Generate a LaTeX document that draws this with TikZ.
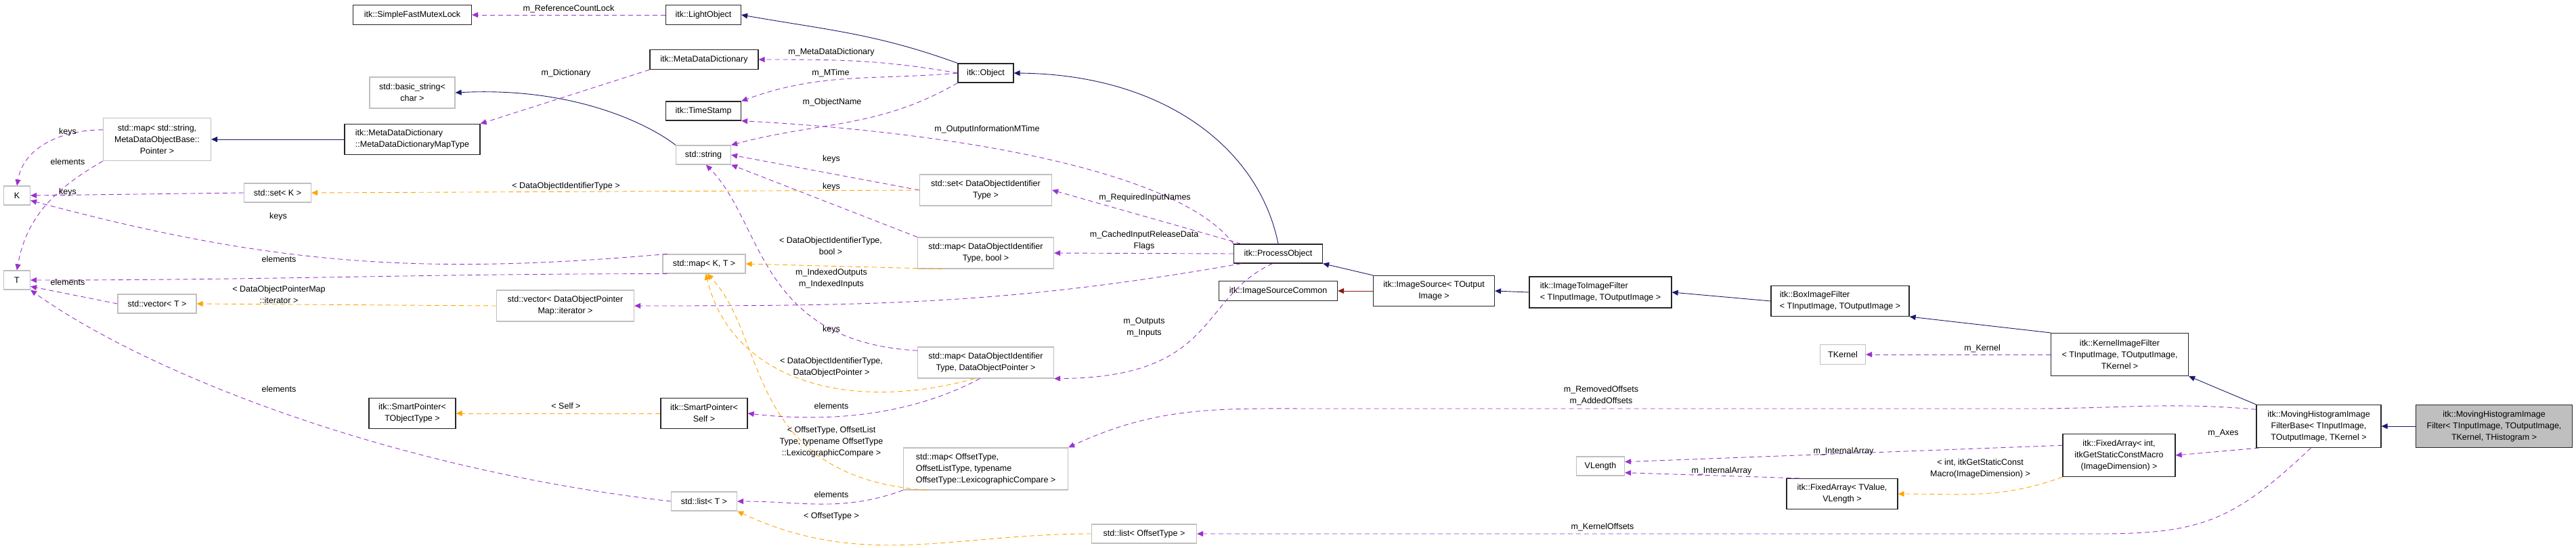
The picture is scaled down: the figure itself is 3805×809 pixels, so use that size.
\documentclass[tikz,border=0pt]{standalone}
\usepackage{fontspec}
\setmainfont{Liberation Sans}
\usetikzlibrary{arrows.meta}
\definecolor{mem}{HTML}{9A32CD}
\definecolor{tpl}{HTML}{FFA500}
\definecolor{inh}{HTML}{191970}
\definecolor{prv}{HTML}{8B1A1A}
\definecolor{gb}{HTML}{BFBFBF}
\begin{document}
\begin{tikzpicture}[x=1pt,y=-1pt,
  every node/.style={font=\fontsize{12.5}{17}\selectfont},
  box/.style={draw, line width=1.2pt, inner sep=0pt, align=center, fill=white},
  cls/.style={box, draw=black!85},
  ext/.style={box, draw=gb},
  lab/.style={inner sep=0pt, align=center},
  memb/.style={draw=mem, line width=0.9pt, dash pattern=on 7pt off 5pt, -{Triangle[length=9pt,width=8pt]}},
  tmpl/.style={draw=tpl, line width=0.9pt, dash pattern=on 7pt off 5pt, -{Triangle[length=9pt,width=8pt]}},
  inhe/.style={draw=inh, line width=0.9pt, -{Triangle[length=9pt,width=8pt]}},
  priv/.style={draw=prv, line width=0.9pt, -{Triangle[length=9pt,width=8pt]}}]
\useasboundingbox (0,0) rectangle (3805,809);
% nodes
\node[cls, minimum width=175, minimum height=29] (mutex) at (609,22) {itk::SimpleFastMutexLock};
\node[ext, minimum width=126, minimum height=46] (basic) at (609,137) {std::basic\_string<\\char >};
\node[ext, minimum width=159, minimum height=63] (maps) at (232,206) {std::map< std::string,\\MetaDataObjectBase::\\Pointer >};
\node[cls, minimum width=200, minimum height=45, align=left] (maptype) at (609,206) {itk::MetaDataDictionary\\::MetaDataDictionaryMapType};
\node[ext, minimum width=39, minimum height=28] (K) at (25,289) {K};
\node[ext, minimum width=99, minimum height=28] (setK) at (410,285) {std::set< K >};
\node[ext, minimum width=39, minimum height=28] (T) at (25,414) {T};
\node[ext, minimum width=116, minimum height=28] (vecT) at (232,449) {std::vector< T >};
\node[ext, minimum width=203, minimum height=46] (vecDOP) at (835,452) {std::vector< DataObjectPointer\\Map::iterator >};
\node[cls, minimum width=128, minimum height=45] (spt) at (609,611) {itk::SmartPointer<\\TObjectType >};
\node[cls, minimum width=111, minimum height=29] (light) at (1039,22) {itk::LightObject};
\node[cls, minimum width=160, minimum height=29] (mdd) at (1040,88) {itk::MetaDataDictionary};
\node[cls, minimum width=82, minimum height=28] (obj) at (1456,108) {itk::Object};
\node[cls, minimum width=111, minimum height=28] (ts) at (1039,164) {itk::TimeStamp};
\node[ext, minimum width=81, minimum height=28] (str) at (1039,229) {std::string};
\node[ext, minimum width=195, minimum height=46] (setD) at (1456,281) {std::set< DataObjectIdentifier\\Type >};
\node[ext, minimum width=201, minimum height=46] (mapDB) at (1456,374) {std::map< DataObjectIdentifier\\Type, bool >};
\node[ext, minimum width=122, minimum height=28] (mapKT) at (1040,390) {std::map< K, T >};
\node[ext, minimum width=201, minimum height=46] (mapDP) at (1456,536) {std::map< DataObjectIdentifier\\Type, DataObjectPointer >};
\node[cls, minimum width=128, minimum height=45] (sps) at (1040,611) {itk::SmartPointer<\\Self >};
\node[ext, minimum width=243, minimum height=62, align=left] (mapOff) at (1456,693) {std::map< OffsetType,\\ OffsetListType, typename\\ OffsetType::LexicographicCompare >};
\node[ext, minimum width=97, minimum height=28] (listT) at (1040,741) {std::list< T >};
\node[ext, minimum width=155, minimum height=28] (listO) at (1690,789) {std::list< OffsetType >};
\node[cls, minimum width=131, minimum height=28] (po) at (1888,375) {itk::ProcessObject};
\node[cls, minimum width=175, minimum height=29] (isc) at (1888,430) {itk::ImageSourceCommon};
\node[cls, minimum width=179, minimum height=45] (is) at (2118,430) {itk::ImageSource< TOutput\\Image >};
\node[cls, minimum width=210, minimum height=46, align=left] (itif) at (2364,432) {itk::ImageToImageFilter\\< TInputImage, TOutputImage >};
\node[cls, minimum width=204, minimum height=45, align=left] (box) at (2718,445) {itk::BoxImageFilter\\< TInputImage, TOutputImage >};
\node[ext, minimum width=67, minimum height=29] (tk) at (2722,524) {TKernel};
\node[ext, minimum width=71, minimum height=28] (vl) at (2364,689) {VLength};
\node[cls, minimum width=164, minimum height=45] (fatv) at (2721,730) {itk::FixedArray< TValue,\\VLength >};
\node[cls, minimum width=203, minimum height=63] (kif) at (3131,524) {itk::KernelImageFilter\\< TInputImage, TOutputImage,\\TKernel >};
\node[cls, minimum width=184, minimum height=63] (mhb) at (3425,630) {itk::MovingHistogramImage\\FilterBase< TInputImage,\\TOutputImage, TKernel >};
\node[cls, minimum width=231, minimum height=63, fill=gb!100] (mhf) at (3684,630) {itk::MovingHistogramImage\\Filter< TInputImage, TOutputImage,\\TKernel, THistogram >};
\node[cls, minimum width=166, minimum height=63] (fai) at (3130,673) {itk::FixedArray< int,\\itkGetStaticConstMacro\\(ImageDimension) >};
% inheritance
\draw[inhe] (obj.north west) to[out=160,in=-10] (light.east);
\draw[inhe] (maptype.west) -- (maps.east);
\draw[inhe] (str.north west) .. controls (960,185) and (850,128) .. (basic.east);
\draw[inhe] (po.north) .. controls (1860,220) and (1720,110) .. (obj.east);
\draw[inhe] (is.north west) -- (po.south east);
\draw[inhe] (itif.west) -- (is.east);
\draw[inhe] (box.west) -- (itif.east);
\draw[inhe] (kif.north west) -- (box.south east);
\draw[inhe] (mhb.north west) -- (kif.south east);
\draw[inhe] (mhf.west) -- (mhb.east);
\draw[priv] (is.west) -- (isc.east);
% members
\draw[memb] (light.west) -- (mutex.east);
\draw[memb] (obj.west) to[out=170,in=0] (mdd.east);
\draw[memb] (mdd.south west) -- (maptype.north east);
\draw[memb] (obj.west) to[out=185,in=20] (ts.north east);
\draw[memb] (obj.south west) to[out=210,in=15] (str.north east);
\draw[memb] (po.north west) .. controls (1740,250) and (1400,195) .. (ts.south east);
\draw[memb] (setD.west) -- (str.east);
\draw[memb] (mapDB.north west) -- (str.south east);
\draw[memb] (mapDP.170) .. controls (1120,505) and (1128,330) .. (str.-75);
\draw[memb] (po.165) -- (setD.east);
\draw[memb] (po.west) -- (mapDB.east);
\draw[memb] (po.195) to[out=190,in=0] (vecDOP.east);
\draw[memb] (po.240) .. controls (1770,440) and (1800,558) .. (mapDP.south east);
\draw[memb] (mapDP.250) .. controls (1330,622) and (1200,622) .. (sps.east);
\draw[memb] (maps.170) to[out=180,in=80] (K.north);
\draw[memb] (maps.south west) to[out=210,in=80] (T.north);
\draw[memb] (setK.west) -- (K.east);
\draw[memb] (mapKT.165) to[out=185,in=-15] (K.-20);
\draw[memb] (mapKT.195) to[out=180,in=0] (T.east);
\draw[memb] (vecT.west) -- (T.-25);
\draw[memb] (listT.west) .. controls (550,690) and (200,540) .. (T.south east);
\draw[memb] (mapOff.south west) to[out=200,in=0] (listT.east);
\draw[memb] (mhb.165) to[out=175,in=0] (3000,604) -- (1950,604) to[out=180,in=25] (mapOff.north east);
\draw[memb] (mhb.200) -- (fai.east);
\draw[memb] (mhb.-110) .. controls (3300,770) and (3250,789) .. (3100,789) -- (listO.east);
\draw[memb] (kif.west) -- (tk.east);
\draw[memb] (fai.170) -- (vl.10);
\draw[memb] (fatv.160) -- (vl.-15);
% templates
\draw[tmpl] (setD.west) -- (setK.east);
\draw[tmpl] (mapDB.200) -- (mapKT.east);
\draw[tmpl] (vecDOP.west) -- (vecT.east);
\draw[tmpl] (mapDP.235) .. controls (1250,612) and (1080,560) .. (mapKT.-80);
\draw[tmpl] (mapOff.200) .. controls (1100,705) and (1135,500) .. (mapKT.-72);
\draw[tmpl] (sps.west) -- (spt.east);
\draw[tmpl] (listO.west) to[out=180,in=-25] (listT.south east);
\draw[tmpl] (fai.south west) to[out=200,in=0] (fatv.east);
% labels
\node[lab] (l1) at (840,13) {m\_ReferenceCountLock};
\node[lab] (l2) at (1228,77) {m\_MetaDataDictionary};
\node[lab] (l3) at (836,108) {m\_Dictionary};
\node[lab] (l4) at (1227,108) {m\_MTime};
\node[lab] (l5) at (1229,151) {m\_ObjectName};
\node[lab] (l6) at (1458,191) {m\_OutputInformationMTime};
\node[lab] (l7) at (1228,235) {keys};
\node[lab] (l8) at (1228,276) {keys};
\node[lab] (l9) at (836,275) {< DataObjectIdentifierType >};
\node[lab] (l10) at (1691,292) {m\_RequiredInputNames};
\node[lab] (l11) at (1690,356) {m\_CachedInputReleaseData\\Flags};
\node[lab] (l12) at (1227,364) {< DataObjectIdentifierType,\\bool >};
\node[lab] (l13) at (1228,412) {m\_IndexedOutputs\\m\_IndexedInputs};
\node[lab] (l14) at (1690,484) {m\_Outputs\\m\_Inputs};
\node[lab] (l15) at (1228,487) {keys};
\node[lab] (l16) at (1228,543) {< DataObjectIdentifierType,\\DataObjectPointer >};
\node[lab] (l17) at (1228,600) {elements};
\node[lab] (l18) at (1228,653) {< OffsetType, OffsetList\\Type, typename OffsetType\\::LexicographicCompare >};
\node[lab] (l19) at (1228,731) {elements};
\node[lab] (l20) at (1228,763) {< OffsetType >};
\node[lab] (l21) at (836,600) {< Self >};
\node[lab] (l22) at (100,195) {keys};
\node[lab] (l23) at (100,239) {elements};
\node[lab] (l24) at (100,284) {keys};
\node[lab] (l25) at (411,320) {keys};
\node[lab] (l26) at (412,383) {elements};
\node[lab] (l27) at (100,417) {elements};
\node[lab] (l28) at (412,436) {< DataObjectPointerMap\\::iterator >};
\node[lab] (l29) at (412,575) {elements};
\node[lab] (l30) at (2365,585) {m\_RemovedOffsets\\m\_AddedOffsets};
\node[lab] (l31) at (3284,640) {m\_Axes};
\node[lab] (l32) at (2928,515) {m\_Kernel};
\node[lab] (l33) at (2723,667) {m\_InternalArray};
\node[lab] (l34) at (2543,696) {m\_InternalArray};
\node[lab] (l35) at (2925,693) {< int, itkGetStaticConst\\Macro(ImageDimension) >};
\node[lab] (l36) at (2367,779) {m\_KernelOffsets};
\end{tikzpicture}
\end{document}
